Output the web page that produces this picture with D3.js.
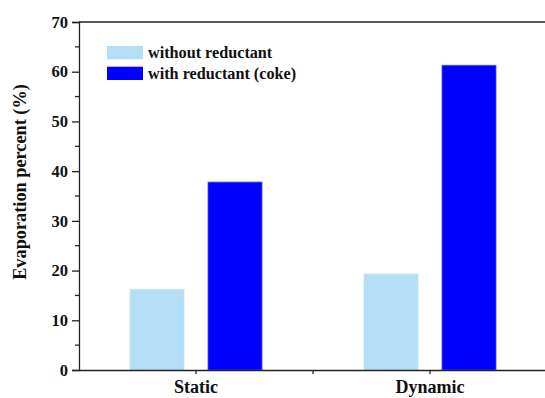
<!DOCTYPE html>
<html>
<head>
<meta charset="utf-8">
<script src="https://cdn.jsdelivr.net/npm/d3@7"></script>
<style>
  html, body { margin: 0; padding: 0; background: #fff; }
  svg { display: block; font-family: "Liberation Serif", "Times New Roman", serif; font-weight: bold; }
</style>
</head>
<body>
<svg id="chart" width="545" height="398"></svg>
<script>
// Categories and series
const categories = ["Static", "Dynamic"];
const seriesNames = ["without reductant", "with reductant (coke)"];
const withoutReductant = [16.2, 19.3];
const withReductant = [37.8, 61.3];
const yTicks = [0, 10, 20, 30, 40, 50, 60, 70];
const colors = ["#b3def5", "#0000ff"];

const svg = d3.select("#chart");
const margin = { left: 79, top: 22, right: -2, bottom: 28 };
const W = 545, H = 398;
const x0 = margin.left, x1 = W - margin.right;
const y0 = H - margin.bottom, y1 = margin.top;

const x = d3.scaleBand().domain(categories).range([x0, x1]);
const y = d3.scaleLinear().domain([0, 70]).range([y0, y1]);

const series = [withoutReductant, withReductant];
const barW = 54, gap = 24;

// Bars
series.forEach((vals, si) => {
  svg.append("g").selectAll("rect")
    .data(vals)
    .join("rect")
    .attr("x", (d, i) => x(categories[i]) + x.bandwidth() / 2 + (si === 0 ? -(gap / 2 + barW) : gap / 2))
    .attr("width", barW)
    .attr("y", d => y(d))
    .attr("height", d => y(0) - y(d))
    .attr("fill", colors[si])
    .attr("stroke", si === 0 ? "#c4e6f8" : "#4d4dff")
    .attr("stroke-width", 0.8);
});

// Y axis
const yAxis = d3.axisLeft(y).tickValues(yTicks).tickSize(7).tickPadding(4);
const gy = svg.append("g").attr("transform", `translate(${x0},0)`).call(yAxis);
gy.select(".domain").attr("stroke", "#222").attr("stroke-width", 1.3);
gy.selectAll(".tick line").attr("stroke", "#222").attr("stroke-width", 1.3);
gy.selectAll("text").attr("font-size", 16.5).attr("font-weight", "bold").attr("fill", "#111")
  .attr("font-family", "Liberation Serif, serif");

// Minor y ticks
const minor = d3.range(5, 70, 10);
svg.append("g").selectAll("line").data(minor).join("line")
  .attr("x1", x0 - 4).attr("x2", x0)
  .attr("y1", d => y(d)).attr("y2", d => y(d))
  .attr("stroke", "#222").attr("stroke-width", 1.3);

// X axis
const xAxis = d3.axisBottom(x).tickSize(4).tickPadding(6).tickSizeOuter(0);
const gx = svg.append("g").attr("transform", `translate(0,${y0})`).call(xAxis);
gx.select(".domain").attr("stroke", "#222").attr("stroke-width", 1.3);
gx.selectAll(".tick line").attr("stroke", "#222").attr("stroke-width", 1.3);
gx.selectAll("text").attr("font-size", 18).attr("font-weight", "bold").attr("fill", "#111")
  .attr("font-family", "Liberation Serif, serif");

// Boundary tick between categories
svg.append("line")
  .attr("x1", x("Dynamic")).attr("x2", x("Dynamic"))
  .attr("y1", y0).attr("y2", y0 + 4)
  .attr("stroke", "#222").attr("stroke-width", 1.3);

// Top frame line
svg.append("line")
  .attr("x1", x0).attr("x2", x1)
  .attr("y1", y1).attr("y2", y1)
  .attr("stroke", "#222").attr("stroke-width", 1.3);

// Y axis title
svg.append("text")
  .attr("transform", "translate(26,182) rotate(-90)")
  .attr("text-anchor", "middle")
  .attr("font-size", 18.3)
  .attr("fill", "#111")
  .text("Evaporation percent (%)");

// Legend
const lg = svg.append("g").attr("transform", "translate(107,46)");
seriesNames.forEach((name, i) => {
  lg.append("rect").attr("x", 0).attr("y", i * 20.7).attr("width", 36).attr("height", 13.3)
    .attr("fill", colors[i]);
  lg.append("text").attr("x", 41).attr("y", i * 20.7 + 12)
    .attr("font-size", 16.2).attr("fill", "#111").text(name);
});
</script>
</body>
</html>
